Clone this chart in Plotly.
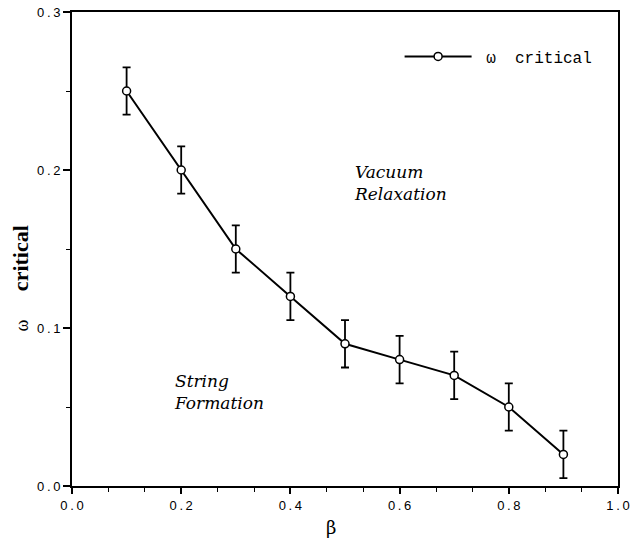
import plotly.graph_objects as go

# critical omega versus beta, with error bars
beta = [0.1, 0.2, 0.3, 0.4, 0.5, 0.6, 0.7, 0.8, 0.9]
omega_crit = [0.25, 0.20, 0.15, 0.12, 0.09, 0.08, 0.07, 0.05, 0.02]
omega_err = [0.015, 0.015, 0.015, 0.015, 0.015, 0.015, 0.015, 0.015, 0.015]

x_ticks = [0.0, 0.2, 0.4, 0.6, 0.8, 1.0]
y_ticks = [0.0, 0.1, 0.2, 0.3]


def spaced(v):
    # tick text with thin gaps between the characters
    return "\u2009".join(f"{v:.1f}")


fig = go.Figure()
fig.add_trace(go.Scatter(
    x=beta, y=omega_crit,
    mode="lines+markers",
    name="\u00a0\u03c9\u00a0\u00a0critical",
    line=dict(color="black", width=2),
    marker=dict(symbol="circle", size=8, color="white",
                line=dict(color="black", width=1.5)),
    error_y=dict(type="data", array=omega_err, visible=True,
                 color="black", thickness=1.8, width=4),
))

tick_font = dict(family="Liberation Sans, Arial, sans-serif", size=13, color="black")

fig.update_layout(
    width=633, height=543,
    margin=dict(l=72, r=15, t=12, b=57),
    paper_bgcolor="white", plot_bgcolor="white",
    showlegend=True,
    legend=dict(x=0.6, y=0.906, xanchor="left", yanchor="middle",
                bgcolor="rgba(0,0,0,0)",
                font=dict(family="Liberation Mono, Courier New, monospace",
                          size=16, color="black"),
                itemwidth=67),
    xaxis=dict(
        range=[0, 1.0], tickvals=x_ticks,
        ticktext=[spaced(v) for v in x_ticks],
        ticks="outside", ticklen=6, tickwidth=1.5, tickcolor="black",
        showline=True, linecolor="black", linewidth=2, mirror=True,
        showgrid=False, zeroline=False, tickfont=tick_font, automargin=False,
        minor=dict(dtick=0.2 / 3, ticks="outside", ticklen=4,
                   tickwidth=1.2, tickcolor="black", showgrid=False),
    ),
    yaxis=dict(
        range=[0, 0.3], tickvals=y_ticks,
        ticktext=[spaced(v) for v in y_ticks],
        ticks="outside", ticklen=7, tickwidth=1.5, tickcolor="black",
        showline=True, linecolor="black", linewidth=2, mirror=True,
        showgrid=False, zeroline=False, tickfont=tick_font, automargin=False,
        minor=dict(dtick=0.05, ticks="outside", ticklen=4,
                   tickwidth=1.2, tickcolor="black", showgrid=False),
    ),
)

# axis titles
fig.add_annotation(x=0.475, y=-0.088, xref="paper", yref="paper",
                   xanchor="center", yanchor="middle", text="\u03b2", showarrow=False,
                   font=dict(family="DejaVu Serif, serif", size=18, color="black"))
fig.add_annotation(x=-0.092, y=0.338, xref="paper", yref="paper",
                   xanchor="center", yanchor="middle", text="\u03c9", showarrow=False,
                   textangle=-90,
                   font=dict(family="Liberation Serif, Times New Roman, serif",
                             size=18, color="black"))
fig.add_annotation(x=-0.095, y=0.481, xref="paper", yref="paper",
                   xanchor="center", yanchor="middle", text="<b>critical</b>",
                   showarrow=False, textangle=-90,
                   font=dict(family="Liberation Serif, Times New Roman, serif",
                             size=22, color="black"))

# region labels
ann_font = dict(family="DejaVu Serif, serif", size=17, color="black")
fig.add_annotation(x=0.513, y=0.192, xref="x", yref="y", xanchor="left", yanchor="middle",
                   text="<i>Vacuum<br>Relaxation</i>", showarrow=False, align="left",
                   font=ann_font)
fig.add_annotation(x=0.183, y=0.0595, xref="x", yref="y", xanchor="left", yanchor="middle",
                   text="<i>String<br>Formation</i>", showarrow=False, align="left",
                   font=ann_font)

fig.write_html("out.html")
